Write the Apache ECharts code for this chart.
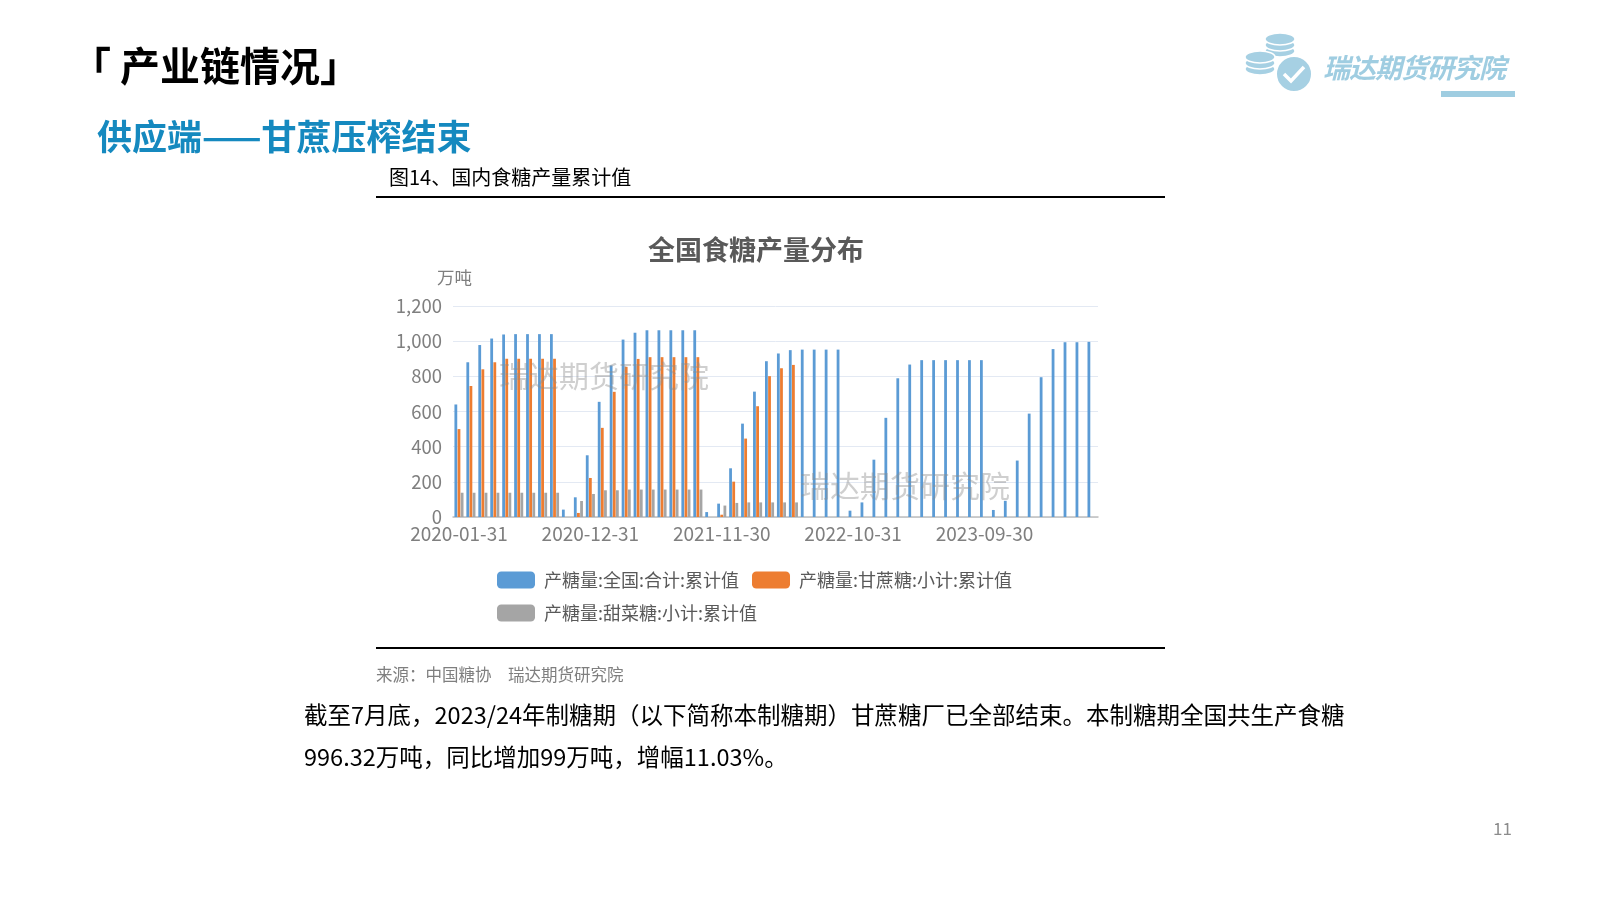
<!DOCTYPE html>
<html><head><meta charset="utf-8">
<script src="https://cdn.jsdelivr.net/npm/echarts@6/dist/echarts.min.js"></script>
<style>
html,body{margin:0;padding:0;width:1600px;height:900px;background:#fff;overflow:hidden;font-family:"Noto Sans CJK SC","Noto Sans",sans-serif;}
#chart{position:absolute;left:0;top:0;width:1600px;height:900px;}
.t{position:absolute;white-space:nowrap;line-height:1;}
</style></head>
<body>
<div id="chart"></div>
<div class="t" style="left:71px;top:44px;font-size:40px;font-weight:bold;color:#000;">「 产业链情况」</div>
<div class="t" style="left:97px;top:117px;font-size:35px;font-weight:bold;color:#1589bf;">供应端——甘蔗压榨结束</div>
<div class="t" style="left:389px;top:167px;font-size:20px;color:#000;">图14、国内食糖产量累计值</div>
<div class="t" style="left:376px;top:196px;width:789px;height:2px;background:#000;"></div>
<div class="t" style="left:376px;top:647px;width:789px;height:2px;background:#000;"></div>
<div class="t" style="left:376px;top:666px;font-size:16.5px;color:#7f7f7f;">来源：中国糖协　瑞达期货研究院</div>
<div class="t" style="left:304px;top:693px;font-size:23.5px;color:#000;line-height:42px;">截至7月底，2023/24年制糖期（以下简称本制糖期）甘蔗糖厂已全部结束。本制糖期全国共生产食糖<br>996.32万吨，同比增加99万吨，增幅11.03%。</div>
<div class="t" style="left:1493px;top:819px;font-size:17px;color:#8c8c8c;">11</div>
<div class="t" style="left:1323px;top:53px;font-size:27px;font-weight:bold;font-style:italic;color:#9fcde1;letter-spacing:-1px;">瑞达期货研究院</div>
<div class="t" style="left:1441px;top:91px;width:74px;height:6px;background:#9fcde1;"></div>
<script>
const categories = ["2020-01-31","2020-02-29","2020-03-31","2020-04-30","2020-05-31","2020-06-30","2020-07-31","2020-08-31","2020-09-30","2020-10-31","2020-11-30","2020-12-31",
"2021-01-31","2021-02-28","2021-03-31","2021-04-30","2021-05-31","2021-06-30","2021-07-31","2021-08-31","2021-09-30","2021-10-31","2021-11-30","2021-12-31",
"2022-01-31","2022-02-28","2022-03-31","2022-04-30","2022-05-31","2022-06-30","2022-07-31","2022-08-31","2022-09-30","2022-10-31","2022-11-30","2022-12-31",
"2023-01-31","2023-02-28","2023-03-31","2023-04-30","2023-05-31","2023-06-30","2023-07-31","2023-08-31","2023-09-30","2023-10-31","2023-11-30","2023-12-31",
"2024-01-31","2024-02-29","2024-03-31","2024-04-30","2024-05-31","2024-06-30"];
const totalSugar = [640,880,978,1015,1038,1040,1040,1040,1040,42,112,351,
655,862,1009,1048,1062,1062,1062,1062,1062,28,76,277,
531,713,886,930,949,952,952,952,952,36,83,326,
564,789,867,892,892,892,892,892,892,40,92,321,
588,795,955,994,994,996];
const caneSugar = [500,745,840,880,900,900,900,900,900,null,23,222,
507,712,854,899,909,909,909,909,909,null,13,201,
446,630,801,846,865,null,null,null,null,null,null,null,
null,null,null,null,null,null,null,null,null,null,null,null,
null,null,null,null,null,null];
const beetSugar = [138,138,138,138,138,138,138,138,138,null,91,131,
152,152,156,156,156,156,156,156,156,null,65,80,
83,83,83,83,83,null,null,null,null,null,null,null,
null,null,null,null,null,null,null,null,null,null,null,null,
null,null,null,null,null,null];
const seriesNames = ["产糖量:全国:合计:累计值","产糖量:甘蔗糖:小计:累计值","产糖量:甜菜糖:小计:累计值"];
const yTicks = {min:0,max:1200,interval:200};

const chart = echarts.init(document.getElementById('chart'));
const font = '"Noto Sans CJK SC","Noto Sans",sans-serif';
const logoColor = '#a6d0e3';
const legendText = {fontSize:18,color:'#595959',fontFamily:font,padding:[0,0,0,4]};
chart.setOption({
  animation:false,
  textStyle:{fontFamily:font},
  title:{text:'全国食糖产量分布',left:751,top:231,textAlign:'center',textStyle:{fontSize:27,fontWeight:'bold',color:'#595959',fontFamily:font}},
  color:['#5b9bd5','#ed7d31','#a5a5a5'],
  legend:[
    {data:[seriesNames[0],seriesNames[1]],left:492,top:566,itemWidth:38,itemHeight:17,itemGap:13,icon:'roundRect',textStyle:legendText},
    {data:[seriesNames[2]],left:492,top:599,itemWidth:38,itemHeight:17,itemGap:13,icon:'roundRect',textStyle:legendText}
  ],
  grid:{left:453,right:502,top:306,bottom:383,containLabel:false},
  xAxis:{type:'category',data:categories,
    axisLine:{lineStyle:{color:'#bfbfbf',width:1.5}},
    axisTick:{alignWithLabel:true,interval:10,length:5,lineStyle:{color:'#bfbfbf'}},
    axisLabel:{interval:10,color:'#7f7f7f',fontSize:19,margin:7,fontFamily:font}},
  yAxis:{type:'value',min:yTicks.min,max:yTicks.max,interval:yTicks.interval,
    axisLine:{show:false},axisTick:{show:false},
    axisLabel:{color:'#7f7f7f',fontSize:18.5,margin:11,fontFamily:font,formatter:v=>v.toLocaleString('en-US')},
    splitLine:{lineStyle:{color:'#e3e9f3',width:1}}},
  series:[
    {name:seriesNames[0],type:'bar',data:totalSugar,barWidth:2.8,barGap:'12%'},
    {name:seriesNames[1],type:'bar',data:caneSugar,barWidth:2.8,barGap:'12%'},
    {name:seriesNames[2],type:'bar',data:beetSugar,barWidth:2.8,barGap:'12%'}
  ],
  graphic:[
    {type:'text',left:437,top:269,style:{text:'万吨',fontSize:17.5,fill:'#7f7f7f',fontFamily:font}},
    {type:'text',left:499,top:361,z:100,style:{text:'瑞达期货研究院',fontSize:30,fill:'rgba(140,140,140,0.42)',fontFamily:font}},
    {type:'text',left:800,top:471,z:100,style:{text:'瑞达期货研究院',fontSize:30,fill:'rgba(140,140,140,0.42)',fontFamily:font}},
    // logo coins
    {type:'ellipse',shape:{cx:1280,cy:51,rx:15,ry:6},style:{fill:logoColor,stroke:'#fff',lineWidth:1.5}},
    {type:'ellipse',shape:{cx:1280,cy:45,rx:15,ry:6},style:{fill:logoColor,stroke:'#fff',lineWidth:1.5}},
    {type:'ellipse',shape:{cx:1280,cy:39,rx:15,ry:6},style:{fill:logoColor,stroke:'#fff',lineWidth:1.5}},
    {type:'ellipse',shape:{cx:1260,cy:69,rx:15,ry:6},style:{fill:logoColor,stroke:'#fff',lineWidth:1.5}},
    {type:'ellipse',shape:{cx:1260,cy:63,rx:15,ry:6},style:{fill:logoColor,stroke:'#fff',lineWidth:1.5}},
    {type:'ellipse',shape:{cx:1260,cy:57,rx:15,ry:6},style:{fill:logoColor,stroke:'#fff',lineWidth:1.5}},
    {type:'circle',shape:{cx:1294,cy:74,r:18},style:{fill:logoColor,stroke:'#fff',lineWidth:2}},
    {type:'polyline',shape:{points:[[1284,74],[1291,81],[1304,67]]},style:{stroke:'#fff',lineWidth:3.5,fill:null}}
  ]
});
</script>
</body></html>
